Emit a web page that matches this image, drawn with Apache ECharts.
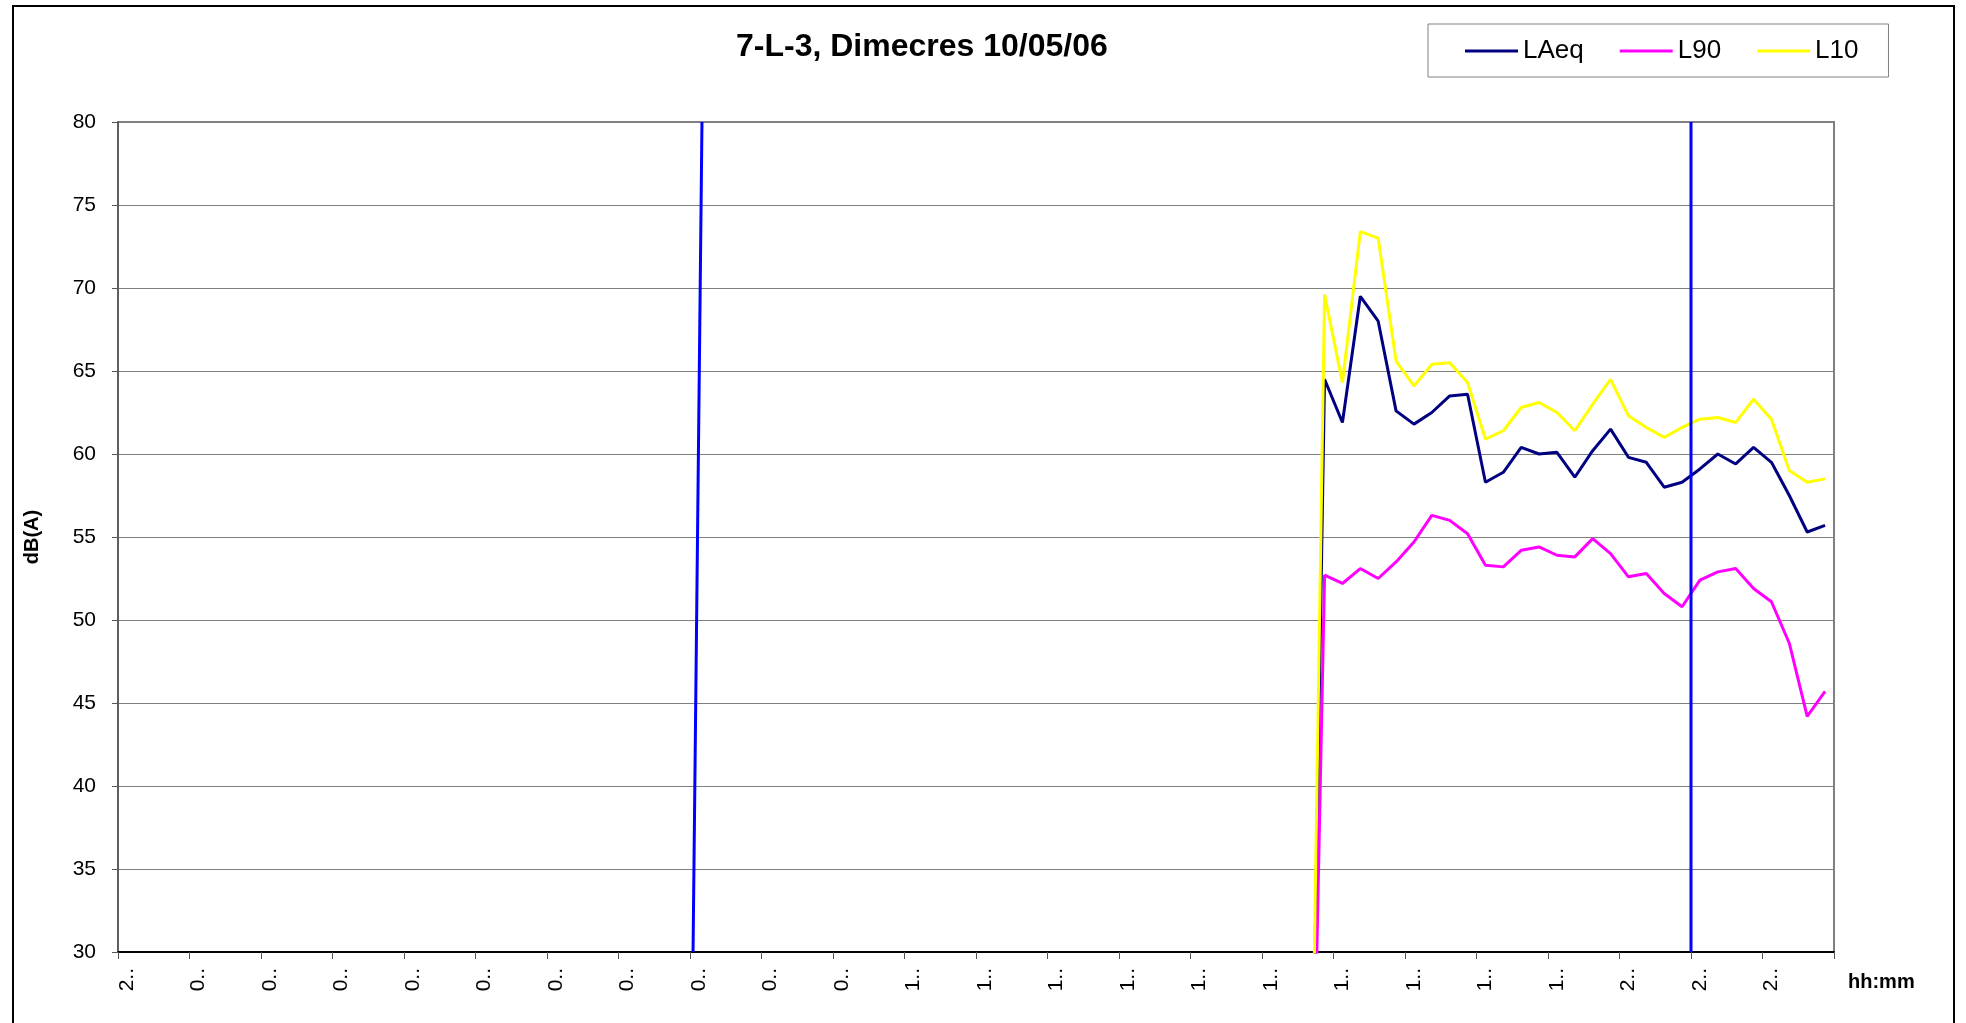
<!DOCTYPE html>
<html>
<head>
<meta charset="utf-8">
<script src="https://cdn.jsdelivr.net/npm/echarts@6/dist/echarts.min.js"></script>
<style>
  html, body { margin: 0; padding: 0; background: #ffffff; }
  #chart { width: 1966px; height: 1023px; }
</style>
</head>
<body>
<div id="chart"></div>
<script>
// Quarter-hour time axis, one day starting at 23:00
const hourLabels = ['23', '00', '01', '02', '03', '04', '05', '06', '07', '08', '09', '10',
                    '11', '12', '13', '14', '15', '16', '17', '18', '19', '20', '21', '22'];
const quarterLabels = ['00', '15', '30', '45'];

// Measurements start at this category (the first slot holds the empty reading, 0)
const firstIndex = 66;

// dB(A) levels per quarter hour
const laeq = [0, 64.5, 61.9, 69.5, 68.0, 62.6, 61.8, 62.5, 63.5, 63.6, 58.3, 58.9, 60.4, 60.0, 60.1,
              58.6, 60.2, 61.5, 59.8, 59.5, 58.0, 58.3, 59.1, 60.0, 59.4, 60.4, 59.5, 57.5, 55.3, 55.7];
const l90  = [0, 52.7, 52.2, 53.1, 52.5, 53.5, 54.7, 56.3, 56.0, 55.2, 53.3, 53.2, 54.2, 54.4, 53.9,
              53.8, 54.9, 54.0, 52.6, 52.8, 51.6, 50.8, 52.4, 52.9, 53.1, 51.9, 51.1, 48.6, 44.2, 45.7];
const l10  = [0, 69.6, 64.3, 73.4, 73.0, 65.6, 64.1, 65.4, 65.5, 64.3, 60.9, 61.4, 62.8, 63.1, 62.5,
              61.4, 63.0, 64.5, 62.3, 61.6, 61.0, 61.6, 62.1, 62.2, 61.9, 63.3, 62.1, 59.0, 58.3, 58.5];

// Period boundaries (07:00 and 21:00), as [quarter-hour position, dB(A)] pairs
const boundaryMorning = [[32.17, 30], [32.67, 80]];
const boundaryEvening = [[88, 30], [88, 80]];

const categories = [];
hourLabels.forEach(h => quarterLabels.forEach(q => categories.push(h + ':' + q)));

const toSeries = vals => categories.map((_, i) => (i < firstIndex ? null : vals[i - firstIndex]));

const FONT = '"Liberation Sans", Arial, sans-serif';

const lineSeries = (name, vals, color) => ({
  name: name,
  type: 'line',
  data: toSeries(vals),
  symbol: 'none',
  showSymbol: false,
  clip: true,
  lineStyle: { color: color, width: 3 },
  itemStyle: { color: color },
  emphasis: { disabled: true }
});

const boundarySeries = pts => ({
  name: 'Període',
  type: 'line',
  xAxisIndex: 1,
  data: pts,
  symbol: 'none',
  clip: true,
  lineStyle: { color: '#0000ff', width: 3 },
  emphasis: { disabled: true }
});

const chart = echarts.init(document.getElementById('chart'), null, { renderer: 'canvas' });

chart.setOption({
  animation: false,
  backgroundColor: '#ffffff',
  textStyle: { fontFamily: FONT, color: '#000' },
  title: {
    text: '7-L-3, Dimecres 10/05/06',
    left: 736,
    top: 31,
    padding: 0,
    textStyle: { fontFamily: FONT, fontSize: 32, fontWeight: 'bold', color: '#000' }
  },
  legend: {
    data: ['LAeq', 'L90', 'L10'],
    left: 1428,
    top: 24,
    orient: 'horizontal',
    icon: 'rect',
    itemWidth: 53,
    itemHeight: 3,
    itemGap: 36,
    padding: [14, 30, 13, 37],
    borderColor: '#808080',
    borderWidth: 1,
    backgroundColor: '#ffffff',
    selectedMode: false,
    textStyle: { fontFamily: FONT, fontSize: 26, color: '#000' }
  },
  graphic: [{
    type: 'rect',
    shape: { x: 13, y: 6, width: 1941, height: 1100 },
    style: { fill: 'none', stroke: '#000', lineWidth: 2 },
    silent: true,
    z: 100
  }],
  grid: {
    left: 118,
    right: 132,
    top: 122,
    bottom: 71,
    show: true,
    borderColor: '#808080',
    borderWidth: 2,
    backgroundColor: '#ffffff',
    containLabel: false,
    outerBoundsMode: 'none'
  },
  xAxis: [{
    type: 'category',
    data: categories,
    boundaryGap: true,
    name: 'hh:mm',
    nameLocation: 'end',
    nameGap: 14,
    nameTextStyle: {
      fontFamily: FONT, fontSize: 20, fontWeight: 'bold', color: '#000',
      verticalAlign: 'top', lineHeight: 60
    },
    axisLine: { show: true, lineStyle: { color: '#000', width: 2 } },
    axisTick: { show: true, interval: 3, length: 7, lineStyle: { color: '#555', width: 1 } },
    axisLabel: {
      interval: 3,
      rotate: 90,
      margin: 16,
      fontFamily: FONT,
      fontSize: 21,
      color: '#000',
      width: 25,
      overflow: 'truncate',
      ellipsis: '..'
    },
    splitLine: { show: false }
  }, {
    type: 'value',
    min: 0,
    max: 96,
    show: false
  }],
  yAxis: {
    type: 'value',
    min: 30,
    max: 80,
    interval: 5,
    name: 'dB(A)',
    nameLocation: 'middle',
    nameGap: 76,
    nameRotate: 90,
    nameTextStyle: { fontFamily: FONT, fontSize: 20, fontWeight: 'bold', color: '#000' },
    axisLine: { show: true, lineStyle: { color: '#555', width: 1.5 } },
    axisTick: { show: true, length: 6, lineStyle: { color: '#555', width: 1 } },
    axisLabel: { margin: 22, fontFamily: FONT, fontSize: 21, color: '#000' },
    splitLine: { show: true, lineStyle: { color: '#808080', width: 1 } }
  },
  series: [
    lineSeries('LAeq', laeq, '#000080'),
    lineSeries('L90', l90, '#ff00ff'),
    lineSeries('L10', l10, '#ffff00'),
    boundarySeries(boundaryMorning),
    boundarySeries(boundaryEvening)
  ]
});
</script>
</body>
</html>
